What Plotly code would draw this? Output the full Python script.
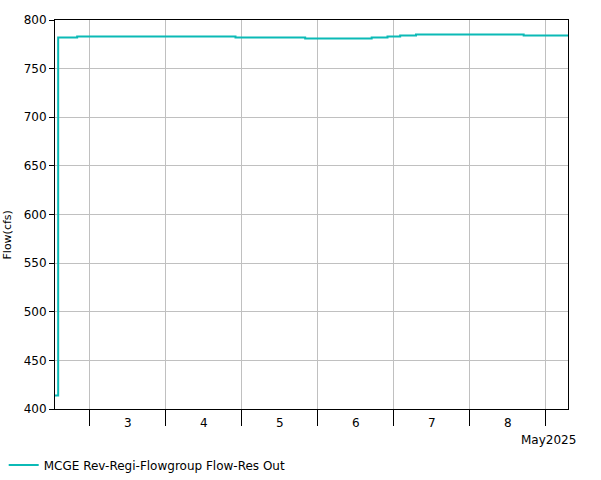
import plotly.graph_objects as go

# Hourly step data and flow values
times = ["2025-05-02 13:00", "2025-05-02 14:00", "2025-05-02 20:00", "2025-05-04 22:00",
         "2025-05-05 20:00", "2025-05-06 17:00", "2025-05-06 22:00", "2025-05-07 02:00",
         "2025-05-07 07:00", "2025-05-08 17:00", "2025-05-09 07:00"]
flow = [414, 782, 783, 782, 781, 782, 783, 784, 785, 784, 784]

day_ticks = ["2025-05-03", "2025-05-04", "2025-05-05", "2025-05-06",
             "2025-05-07", "2025-05-08", "2025-05-09"]
day_label_pos = ["2025-05-03 12:00", "2025-05-04 12:00", "2025-05-05 12:00",
                 "2025-05-06 12:00", "2025-05-07 12:00", "2025-05-08 12:00"]
day_labels = ["3", "4", "5", "6", "7", "8"]
y_ticks = [400, 450, 500, 550, 600, 650, 700, 750, 800]

font = "DejaVu Sans, Verdana, sans-serif"

fig = go.Figure()
fig.add_trace(go.Scatter(
    x=times, y=flow, mode="lines", line=dict(color="#0BBAB6", width=2, shape="hv"),
    name="MCGE Rev-Regi-Flowgroup Flow-Res Out"))

annotations = []
for pos, lab in zip(day_label_pos, day_labels):
    annotations.append(dict(x=pos, y=0, xref="x", yref="paper", text=lab, showarrow=False,
                            yanchor="middle", yshift=-14, font=dict(size=12, color="black")))
annotations.append(dict(x=1, y=0, xref="paper", yref="paper", text="May2025", showarrow=False,
                        xanchor="right", yanchor="middle", xshift=10, yshift=-31,
                        font=dict(size=12, color="black")))
annotations.append(dict(x=0, y=0.5, xref="paper", yref="paper", text="Flow(cfs)", showarrow=False,
                        textangle=-90, xanchor="center", yanchor="middle", xshift=-48, yshift=-21,
                        font=dict(size=11, color="black")))

fig.update_layout(
    width=601, height=480,
    margin=dict(l=55, r=33, t=20, b=71, autoexpand=False),
    paper_bgcolor="white", plot_bgcolor="white",
    font=dict(family=font, size=11, color="black"),
    showlegend=True,
    legend=dict(x=-0.1, y=-0.144, xanchor="left", yanchor="middle", orientation="h",
                font=dict(size=12), bgcolor="rgba(0,0,0,0)"),
    annotations=annotations,
    xaxis=dict(type="date", range=["2025-05-02 13:00", "2025-05-09 07:00"],
               tickvals=day_ticks, ticktext=[""] * len(day_ticks),
               ticks="outside", ticklen=16, tickcolor="black", tickwidth=1,
               showgrid=True, gridcolor="#c0c0c0", gridwidth=1,
               showline=True, linecolor="black", linewidth=1, mirror=True,
               zeroline=False),
    yaxis=dict(range=[400, 800], tickvals=y_ticks,
               ticks="outside", ticklen=5, tickcolor="black",
               showgrid=True, gridcolor="#c0c0c0", gridwidth=1,
               showline=True, linecolor="black", linewidth=1, mirror=True,
               zeroline=False, tickfont=dict(size=12)),
)

fig.write_html("out.html", config={"displayModeBar": False},
               post_script="document.body.style.margin='0';document.body.style.overflow='hidden';")
